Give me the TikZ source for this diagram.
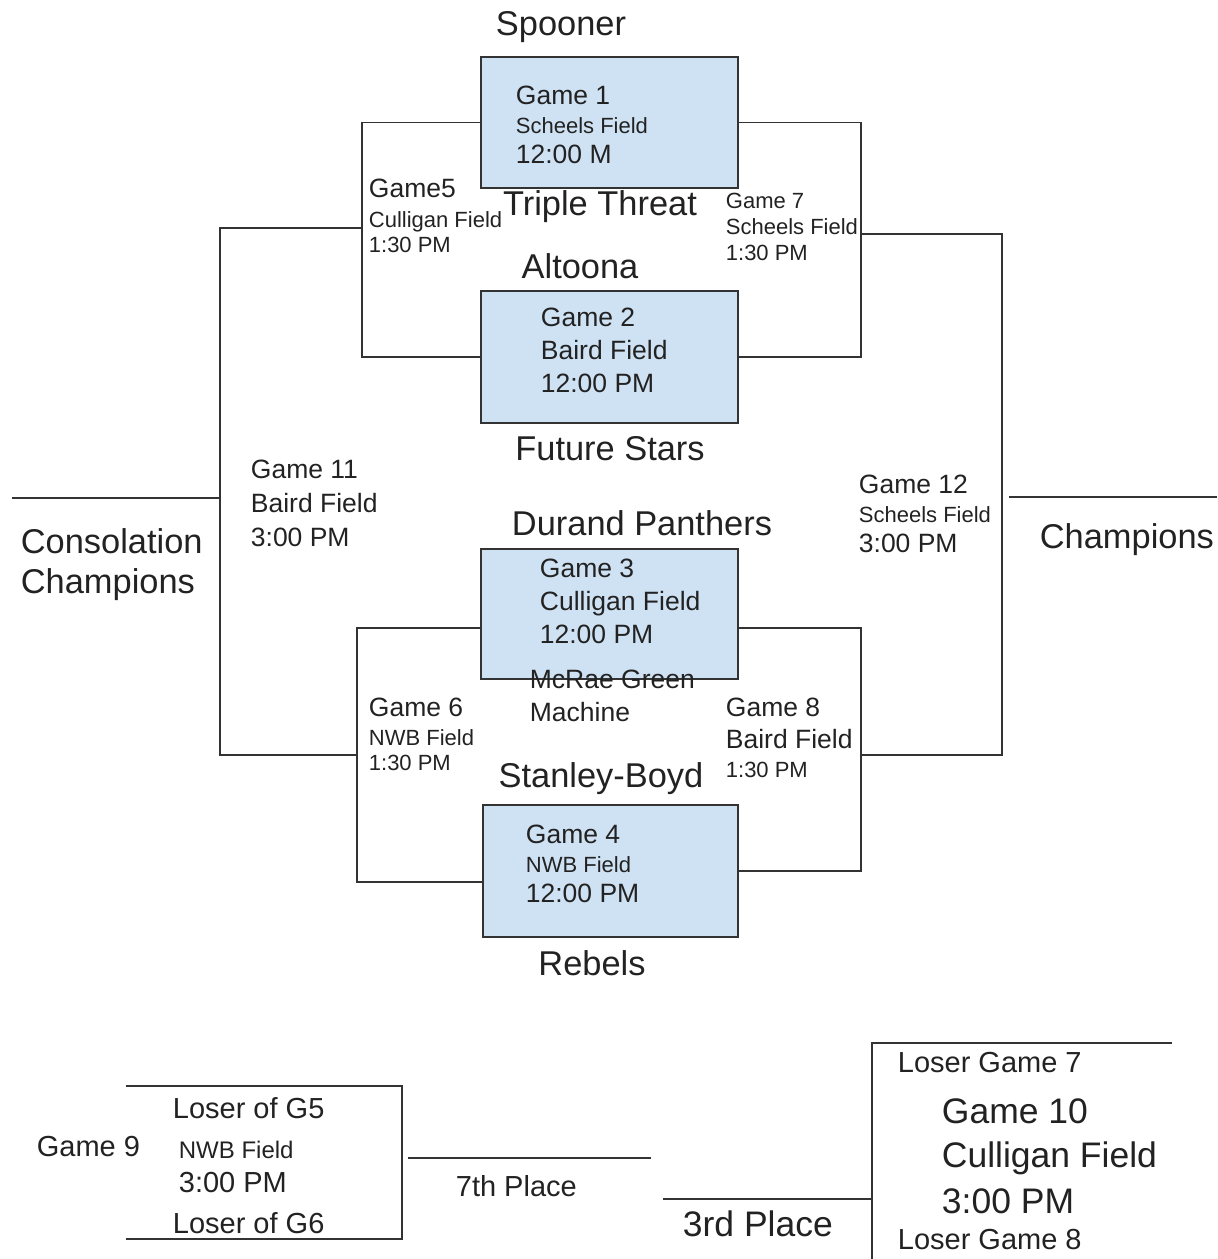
\documentclass[tikz,border=0pt]{standalone}
\usepackage{fontspec}
\setmainfont{Liberation Sans}
\definecolor{boxblue}{HTML}{CFE2F3}
\definecolor{ink}{HTML}{222222}
\definecolor{rule}{HTML}{333333}
\begin{document}
\begin{tikzpicture}[x=0.5pt,y=-0.5pt,line width=0.9pt,draw=rule,
  txt/.style={inner sep=0pt,anchor=base west,text=ink},
  ctr/.style={inner sep=0pt,anchor=base,text=ink},
  lg/.style={txt,font=\fontsize{17.2}{20}\selectfont},
  lgc/.style={ctr,font=\fontsize{17.2}{20}\selectfont},
  md/.style={txt,font=\fontsize{13.25}{16}\selectfont},
  sm/.style={txt,font=\fontsize{11}{13}\selectfont},
  bl/.style={txt,font=\fontsize{17.75}{21}\selectfont},
  bm/.style={txt,font=\fontsize{14.5}{17}\selectfont},
  bs/.style={txt,font=\fontsize{12}{14}\selectfont},
  gamebox/.style={draw=rule,fill=boxblue,minimum width=128.5pt,minimum height=65.5pt,inner sep=0pt}]
\useasboundingbox (0,0) rectangle (1217,1259);
\node (g1) at (609.5,122.5) [gamebox] {};
\node (g2) at (609.5,357) [gamebox,minimum height=66pt] {};
\node (g3) at (609.5,614) [gamebox,minimum height=65pt] {};
\node (g4) at (610.5,871) [gamebox,minimum width=127.5pt,minimum height=66pt] {};
\coordinate (c5a) at (362,122.5);
\coordinate (c5b) at (362,357);
\coordinate (c7a) at (861,122.5);
\coordinate (c7b) at (861,357);
\coordinate (c6a) at (357,628);
\coordinate (c6b) at (357,882);
\coordinate (c8a) at (861,628);
\coordinate (c8b) at (861,871);
\coordinate (c11a) at (220,228);
\coordinate (c11b) at (220,755);
\coordinate (c11o) at (220,498);
\coordinate (cons) at (12,498);
\coordinate (c12a) at (1002,234);
\coordinate (c12b) at (1002,755);
\coordinate (c12o) at (1009,497);
\coordinate (champ) at (1217,497);
\draw (g1.west) -- (c5a) -- (c5b) -- (g2.west);
\draw (g1.east) -- (c7a) -- (c7b) -- (g2.east);
\draw (c6a -| g3.west) -- (c6a) -- (c6b) -- (c6b -| g4.west);
\draw (c8a -| g3.east) -- (c8a) -- (c8b) -- (c8b -| g4.east);
\draw (c11a -| c5a) -- (c11a) -- (c11b) -- (c11b -| c6a);
\draw (c11o) -- (cons);
\draw (c12a -| c7a) -- (c12a) -- (c12b) -- (c12b -| c8a);
\draw (c12o) -- (champ);
\coordinate (c9a) at (126,1086);
\coordinate (c9b) at (402,1086);
\coordinate (c9c) at (402,1239);
\coordinate (c9d) at (126,1239);
\draw (c9a) -- (c9b) -- (c9c) -- (c9d);
\coordinate (p7a) at (408,1158);
\coordinate (p7b) at (651,1158);
\draw (p7a) -- (p7b);
\coordinate (c10a) at (1172,1043);
\coordinate (c10b) at (872,1043);
\coordinate (c10c) at (872,1259);
\coordinate (p3a) at (663,1199);
\draw (c10a) -- (c10b) -- (c10c);
\draw (p3a) -- (p3a -| c10b);
\node (spooner) at (561,35) [lgc] {Spooner};
\node (g1a) at (515,104) [md] {Game 1};
\node (g1b) at (515,133) [sm] {Scheels Field};
\node (g1c) at (515,163) [md] {12:00 M};
\node (triple) at (600,215) [lgc] {Triple Threat};
\node (altoona) at (580,278) [lgc] {Altoona};
\node (g2a) at (540,326) [md] {Game 2};
\node (g2b) at (540,359) [md] {Baird Field};
\node (g2c) at (540,392) [md] {12:00 PM};
\node (future) at (610,460) [lgc] {Future Stars};
\node (durand) at (642,535) [lgc] {Durand Panthers};
\node (g3a) at (539,577) [md] {Game 3};
\node (g3b) at (539,610) [md] {Culligan Field};
\node (g3c) at (539,643) [md] {12:00 PM};
\node (mcrae) at (529,688) [md] {McRae Green};
\node (machine) at (529,721) [md] {Machine};
\node (stanley) at (601,787) [lgc] {Stanley-Boyd};
\node (g4a) at (525,843) [md] {Game 4};
\node (g4b) at (525,872) [sm] {NWB Field};
\node (g4c) at (525,902) [md] {12:00 PM};
\node (rebels) at (592,975) [lgc] {Rebels};
\node (g5a) at (368,197) [md] {Game5};
\node (g5b) at (368,227) [sm] {Culligan Field};
\node (g5c) at (368,252) [sm] {1:30 PM};
\node (g7a) at (725,208) [sm] {Game 7};
\node (g7b) at (725,234) [sm] {Scheels Field};
\node (g7c) at (725,260) [sm] {1:30 PM};
\node (g6a) at (368,716) [md] {Game 6};
\node (g6b) at (368,745) [sm] {NWB Field};
\node (g6c) at (368,770) [sm] {1:30 PM};
\node (g8a) at (725,716) [md] {Game 8};
\node (g8b) at (725,748) [md] {Baird Field};
\node (g8c) at (725,777) [sm] {1:30 PM};
\node (g11a) at (250,478) [md] {Game 11};
\node (g11b) at (250,512) [md] {Baird Field};
\node (g11c) at (250,546) [md] {3:00 PM};
\node (g12a) at (858,493) [md] {Game 12};
\node (g12b) at (858,522) [sm] {Scheels Field};
\node (g12c) at (858,552) [md] {3:00 PM};
\node (consa) at (20,553) [lg] {Consolation};
\node (consb) at (20,593) [lg] {Champions};
\node (champs) at (1039,548) [lg] {Champions};
\node (l5) at (172,1118) [bm] {Loser of G5};
\node (g9a) at (36,1156) [bm] {Game 9};
\node (g9b) at (178,1158) [bs] {NWB Field};
\node (g9c) at (178,1192) [bm] {3:00 PM};
\node (l6) at (172,1233) [bm] {Loser of G6};
\node (seventh) at (455,1196) [bm] {7th Place};
\node (third) at (682,1236) [bl] {3rd Place};
\node (l7) at (897,1072) [bm] {Loser Game 7};
\node (g10a) at (941,1123) [bl] {Game 10};
\node (g10b) at (941,1167) [bl] {Culligan Field};
\node (g10c) at (941,1213) [bl] {3:00 PM};
\node (l8) at (897,1249) [bm] {Loser Game 8};
\end{tikzpicture}
\end{document}
